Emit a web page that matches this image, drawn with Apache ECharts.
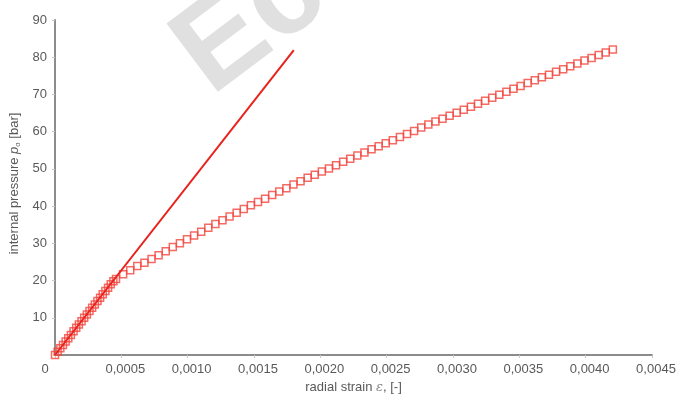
<!DOCTYPE html>
<html>
<head>
<meta charset="utf-8">
<script src="https://cdn.jsdelivr.net/npm/echarts@6/dist/echarts.min.js"></script>
<style>
  html, body { margin: 0; padding: 0; background: #fff; }
  #chart { width: 677px; height: 394px; }
</style>
</head>
<body>
<div id="chart"></div>
<script>
  // measured points (squares)
  var strainPoints = [
    0, 0.00002, 0.00004, 0.00006, 0.00008, 0.0001, 0.00012, 0.00014, 0.00016, 0.00018,
    0.0002, 0.00022, 0.00024, 0.00026, 0.00028, 0.0003, 0.00032, 0.00034, 0.00036, 0.00038,
    0.0004, 0.00042, 0.00044,
    0.00046, 0.0005135, 0.000567, 0.0006205, 0.000674, 0.0007275, 0.000781, 0.0008345, 0.000888, 0.0009415,
    0.000995, 0.0010485, 0.001102, 0.0011555, 0.001209, 0.0012625, 0.001316, 0.0013695, 0.001423, 0.0014765,
    0.00153, 0.0015835, 0.001637, 0.0016905, 0.001744, 0.0017975, 0.001851, 0.0019045, 0.001958, 0.0020115,
    0.002065, 0.0021185, 0.002172, 0.0022255, 0.002279, 0.0023325, 0.002386, 0.0024395, 0.002493, 0.0025465,
    0.0026, 0.0026535, 0.002707, 0.0027605, 0.002814, 0.0028675, 0.002921, 0.0029745, 0.003028, 0.0030815,
    0.003135, 0.0031885, 0.003242, 0.0032955, 0.003349, 0.0034025, 0.003456, 0.0035095, 0.003563, 0.0036165,
    0.00367, 0.0037235, 0.003777, 0.0038305, 0.003884, 0.0039375, 0.003991, 0.0040445, 0.004098, 0.0041515,
    0.004205
  ]
  var pressurePoints = [
    0, 0.9, 1.8, 2.7, 3.6, 4.5, 5.4, 6.4, 7.3, 8.2,
    9.1, 10.0, 10.9, 11.8, 12.7, 13.6, 14.5, 15.4, 16.3, 17.2,
    18.1, 19.0, 19.8,
    20.4, 21.7, 22.8, 23.9, 24.8, 25.8, 26.8, 27.9, 29.0, 30.0,
    31.1, 32.1, 33.1, 34.2, 35.2, 36.2, 37.2, 38.2, 39.2, 40.2,
    41.1, 42.0, 43.0, 43.9, 44.8, 45.8, 46.7, 47.6, 48.4, 49.3,
    50.1, 51.0, 51.9, 52.7, 53.6, 54.4, 55.3, 56.1, 56.9, 57.7,
    58.6, 59.4, 60.2, 61.1, 61.9, 62.7, 63.5, 64.3, 65.1, 65.9,
    66.7, 67.5, 68.3, 69.1, 69.9, 70.7, 71.5, 72.3, 73.1, 73.8,
    74.6, 75.3, 76.1, 76.8, 77.6, 78.3, 79.1, 79.8, 80.6, 81.3,
    82.1
  ]
  // linear elastic line
  var lineStrain = [0, 0.0018]
  var linePressure = [0, 81.9]

  var xTicks = { min: 0, max: 0.0045, interval: 0.0005 }
  var yTicks = { min: 0, max: 90, interval: 10 }

  var chart = echarts.init(document.getElementById('chart'))
  var labelColor = '#595959'
  var font = '"Liberation Sans", Arial, sans-serif'

  var options = {
    animation: false,
    backgroundColor: '#fff',
    grid: { left: 55, right: 25, top: 20, bottom: 39, outerBoundsMode: 'none', containLabel: false },
    graphic: [
      {
        // watermark
        type: 'text',
        z: -10,
        x: 228,
        y: 119,
        rotation: 0.646,
        style: {
          text: 'Ec',
          font: 'bold 124px "Liberation Sans", Arial, sans-serif',
          fill: '#e0e0e0',
          textAlign: 'left',
          textVerticalAlign: 'bottom'
        }
      }
    ],
    xAxis: {
      type: 'value',
      min: xTicks.min,
      max: xTicks.max,
      interval: xTicks.interval,
      name: 'radial strain {e|ε}, [-]',
      nameLocation: 'middle',
      nameGap: 22,
      nameTextStyle: {
        color: labelColor, fontSize: 13, fontFamily: font,
        rich: { e: { fontFamily: '"DejaVu Serif", serif', fontStyle: 'italic', fontSize: 13, color: '#888' } }
      },
      axisLine: { lineStyle: { color: '#8c8c8c', width: 2 } },
      axisTick: { show: true, length: 3, lineStyle: { color: '#c8c8c8' } },
      splitLine: { show: false },
      axisLabel: {
        margin: 8,
        color: labelColor,
        fontSize: 13,
        fontFamily: font,
        formatter: function(v) {
          if (v === 0) {
            return '{z|0}'
          }
          return '{n|' + v.toFixed(4).replace('.', ',') + '}'
        },
        rich: {
          z: { padding: [0, 20, 0, 0], color: labelColor, fontSize: 13, fontFamily: font },
          n: { padding: [0, 0, 0, 8], color: labelColor, fontSize: 13, fontFamily: font }
        }
      }
    },
    yAxis: {
      type: 'value',
      min: yTicks.min,
      max: yTicks.max,
      interval: yTicks.interval,
      name: 'internal pressure {i|p}{s|o} [bar]',
      nameLocation: 'middle',
      nameGap: 31,
      nameTextStyle: {
        color: labelColor, fontSize: 13, fontFamily: font, padding: [0, 0, 0, 8],
        rich: {
          i: { fontStyle: 'italic', fontSize: 13, fontFamily: font, color: labelColor },
          s: { fontSize: 8, fontFamily: font, color: labelColor, verticalAlign: 'bottom', padding: [6, 0, 0, 0] }
        }
      },
      axisLine: { show: true, lineStyle: { color: '#8c8c8c', width: 2 } },
      axisTick: { show: true, length: 3, lineStyle: { color: '#c8c8c8' } },
      splitLine: { show: false },
      axisLabel: {
        margin: 8,
        color: labelColor,
        fontSize: 13,
        fontFamily: font,
        showMinLabel: false
      }
    },
    series: [
      {
        name: 'measured',
        type: 'scatter',
        symbol: 'rect',
        symbolSize: 7,
        itemStyle: { color: 'rgba(255,255,255,0)', borderColor: '#f2453c', borderWidth: 1.5 },
        data: strainPoints.map(function(x, i) { return [x, pressurePoints[i]] })
      },
      {
        name: 'linear',
        type: 'line',
        symbol: 'none',
        lineStyle: { color: '#e8221d', width: 2 },
        data: lineStrain.map(function(x, i) { return [x, linePressure[i]] })
      }
    ]
  }
  chart.setOption(options)
</script>
</body>
</html>
